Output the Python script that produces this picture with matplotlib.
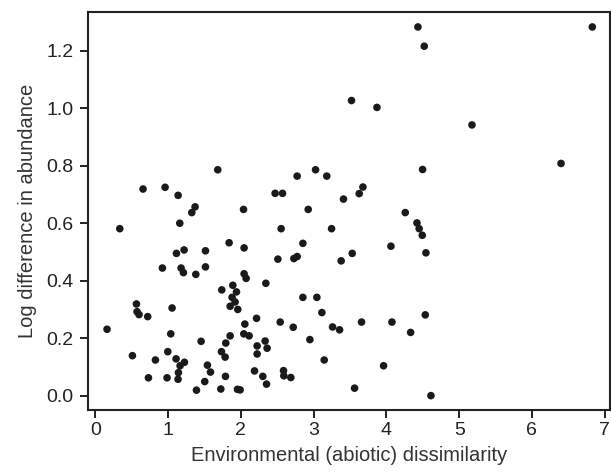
import matplotlib
matplotlib.use("Agg")
import matplotlib.pyplot as plt
import numpy as np

# environmental dissimilarity vs log difference in abundance
env_dissim = [
    0.335, 0.655, 0.958, 1.137, 1.16, 1.325, 1.37, 1.682, 2.036, 2.47,
    2.572, 2.553, 2.773, 2.925, 3.026, 3.18, 3.246,
    4.433, 6.83, 4.52, 3.52, 3.87, 5.176, 6.40, 4.497, 3.677,
    3.626, 3.41, 4.259, 4.42, 4.45, 4.493,
    1.838, 2.044, 2.852, 1.114, 1.219, 1.513, 2.508, 2.728, 2.773, 3.378,
    0.921, 1.178, 1.21, 1.513, 1.38, 2.044, 2.072, 2.343, 1.889, 1.737,
    1.939, 1.879, 1.92, 1.852, 1.957, 2.852, 3.044, 3.113, 0.564, 0.573,
    0.60, 0.719, 1.054, 0.160, 2.054, 2.215, 2.54, 2.719, 3.26, 3.356,
    1.036, 2.04, 2.113, 1.852, 1.453, 1.792, 2.333, 2.223, 2.36, 2.948,
    0.509, 0.995, 1.733, 1.783, 2.223, 3.145, 0.825, 1.109, 1.224, 1.164,
    1.54, 1.141, 1.582, 2.187, 2.586, 1.136, 0.729, 0.985, 1.788, 2.301,
    2.59, 2.686, 1.503, 2.352, 1.389, 1.724, 1.953, 1.989,
    4.062, 4.543, 3.53, 3.658, 4.076, 4.534, 4.333, 3.961, 3.562, 4.612,
]
log_abund_diff = [
    0.581, 0.719, 0.725, 0.697, 0.600, 0.637, 0.657, 0.786, 0.648, 0.704,
    0.704, 0.581, 0.764, 0.648, 0.786, 0.764, 0.581,
    1.283, 1.283, 1.216, 1.027, 1.003, 0.942, 0.808, 0.787, 0.726,
    0.703, 0.684, 0.637, 0.601, 0.581, 0.558,
    0.532, 0.514, 0.530, 0.495, 0.507, 0.504, 0.475, 0.477, 0.484, 0.469,
    0.444, 0.444, 0.428, 0.448, 0.422, 0.424, 0.408, 0.391, 0.384, 0.368,
    0.361, 0.342, 0.326, 0.311, 0.300, 0.342, 0.342, 0.289, 0.319, 0.292,
    0.282, 0.275, 0.305, 0.231, 0.249, 0.269, 0.256, 0.238, 0.239, 0.229,
    0.215, 0.215, 0.208, 0.208, 0.189, 0.183, 0.190, 0.173, 0.165, 0.195,
    0.139, 0.153, 0.153, 0.134, 0.145, 0.124, 0.124, 0.128, 0.116, 0.104,
    0.106, 0.080, 0.082, 0.086, 0.087, 0.057, 0.062, 0.062, 0.067, 0.067,
    0.069, 0.063, 0.049, 0.040, 0.019, 0.023, 0.022, 0.020,
    0.520, 0.497, 0.495, 0.256, 0.256, 0.281, 0.220, 0.104, 0.026, 0.000,
]

x_ticks = [0, 1, 2, 3, 4, 5, 6, 7]
y_ticks = [0.0, 0.2, 0.4, 0.6, 0.8, 1.0, 1.2]

plt.rcParams['font.family'] = ['Liberation Sans', 'DejaVu Sans']

fig = plt.figure(figsize=(6.11, 4.73), dpi=100)
ax = fig.add_axes([0.1435, 0.1332, 0.8545, 0.8414])

ax.scatter(env_dissim, log_abund_diff, s=30, color='#1a1a1a', edgecolors='none', zorder=3)

ax.set_xlim(-0.106, 7.07)
ax.set_ylim(-0.05, 1.335)
ax.set_xticks(x_ticks)
ax.set_xticklabels([str(t) for t in x_ticks])
ax.set_yticks(y_ticks)
ax.set_yticklabels(['%.1f' % t for t in y_ticks])

for sp in ax.spines.values():
    sp.set_linewidth(1.5)
    sp.set_color('#222222')

ax.tick_params(direction='out', length=6, width=1.4, labelsize=14, colors='#222222')
ax.tick_params(axis='x', pad=3)
ax.tick_params(axis='y', pad=4)

ax.set_xlabel('Environmental (abiotic) dissimilarity', fontsize=14.5, color='#333333', labelpad=5)
ax.set_ylabel('Log difference in abundance', fontsize=14.5, color='#333333', labelpad=7)

fig.savefig('out.png', dpi=100)
